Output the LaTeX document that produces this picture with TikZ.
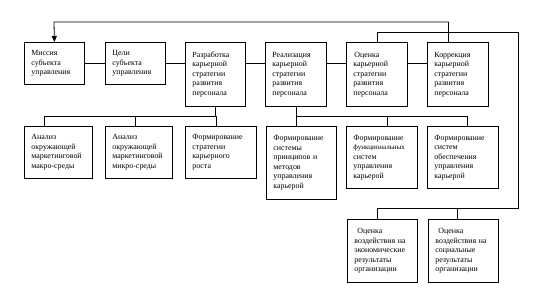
\documentclass[tikz,border=0pt]{standalone}
\usepackage{fontspec}
\setmainfont{Liberation Serif}
\usetikzlibrary{arrows.meta}
\begin{document}
\begin{tikzpicture}[x=1pt,y=-1pt,
  bx/.style={draw,line width=0.8pt,anchor=north west,align=left,
    inner xsep=7pt,inner ysep=2pt,font=\fontsize{7.9}{9.5}\selectfont},
  ln/.style={line width=0.8pt}]
\useasboundingbox (0,0) rectangle (547,304);
% row 1
\node[bx,text width=46pt,minimum height=42pt] (m1) at (24,42) {Миссия\\субъекта\\управления};
\node[bx,text width=46pt,minimum height=42pt] (m2) at (105,42) {Цели\\субъекта\\управления};
\node[bx,text width=46pt,minimum height=64pt] (m3) at (185,42) {Разработка\\карьерной\\стратегии\\развития\\персонала};
\node[bx,text width=47pt,minimum height=64pt] (m4) at (265,42) {Реализация\\карьерной\\стратегии\\развития\\персонала};
\node[bx,text width=47pt,minimum height=64pt] (m5) at (346,42) {\hspace*{1pt}Оценка\\карьерной\\стратегии\\развития\\персонала};
\node[bx,text width=47pt,minimum height=64pt] (m6) at (427,42) {Коррекция\\карьерной\\стратегии\\развития\\персонала};
% row 2
\node[bx,text width=54pt,minimum height=52pt] (a1) at (24,126) {Анализ\\окружающей\\маркетинговой\\макро-среды};
\node[bx,text width=53pt,minimum height=52pt] (a2) at (105,126) {Анализ\\окружающей\\маркетинговой\\микро-среды};
\node[bx,text width=57pt,minimum height=52pt] (a3) at (185,126) {Формирование\\стратегии\\карьерного\\роста};
\node[bx,text width=56pt,minimum height=73pt] (b1) at (266,126) {Формирование\\системы\\принципов и\\методов\\управления\\карьерой};
\node[bx,text width=57pt,minimum height=62pt] (b2) at (346,126) {Формирование\\{\fontsize{7}{9.5}\selectfont функциональных}\\систем\\управления\\карьерой};
\node[bx,text width=57pt,minimum height=62pt] (b3) at (427,126) {Формирование\\систем\\обеспечения\\управления\\карьерой};
% row 3
\node[bx,text width=56pt,minimum height=63pt] (r1) at (347,219) {\hspace*{3pt}Оценка\\воздействия на\\экономические\\результаты\\организации};
\node[bx,text width=56pt,minimum height=63pt] (r2) at (428,219) {\hspace*{3pt}Оценка\\воздействия на\\социальные\\результаты\\организации};
% row 1 links
\draw[ln] (m1.east) -- (m2.west);
\draw[ln] (m2.east) -- (m2.east -| m3.west);
\draw[ln] (m2.east -| m3.east) -- (m2.east -| m4.west);
\draw[ln] (m2.east -| m4.east) -- (m2.east -| m5.west);
\draw[ln] (m2.east -| m5.east) -- (m2.east -| m6.west);
% feedback arrow
\coordinate (fb) at (54,22);
\draw[ln,-{Triangle[length=6pt,width=5pt]}] ([xshift=-9.5pt]m6.north) |- (fb) -- (m1.north);
% row 2 left
\coordinate (h1) at (44,116);
\draw[ln] (m3.south) |- (h1) -- (h1 |- a1.north);
\draw[ln] ([xshift=-3.5pt]a2.north) -- ([xshift=-3.5pt]a2.north |- h1);
\draw[ln] ([xshift=-5pt]a3.north) -- ([xshift=-5pt]a3.north |- h1);
% row 2 right
\coordinate (h2) at (467,116);
\draw[ln] (m4.south) |- (h2) -- (h2 |- b3.north);
\draw[ln] ([xshift=-5pt]b1.north) -- ([xshift=-5pt]b1.north |- h2);
\draw[ln] ([xshift=5.5pt]b2.north) -- ([xshift=5.5pt]b2.north |- h2);
% row 3 links
\coordinate (h3) at (518,208);
\coordinate (tp) at (518,32);
\draw[ln] (m5.north) |- (tp) -- (h3) -| ([xshift=-5pt]r1.north);
\draw[ln] ([xshift=-6pt]r2.north) -- ([xshift=-6pt]r2.north |- h3);
\end{tikzpicture}
\end{document}
